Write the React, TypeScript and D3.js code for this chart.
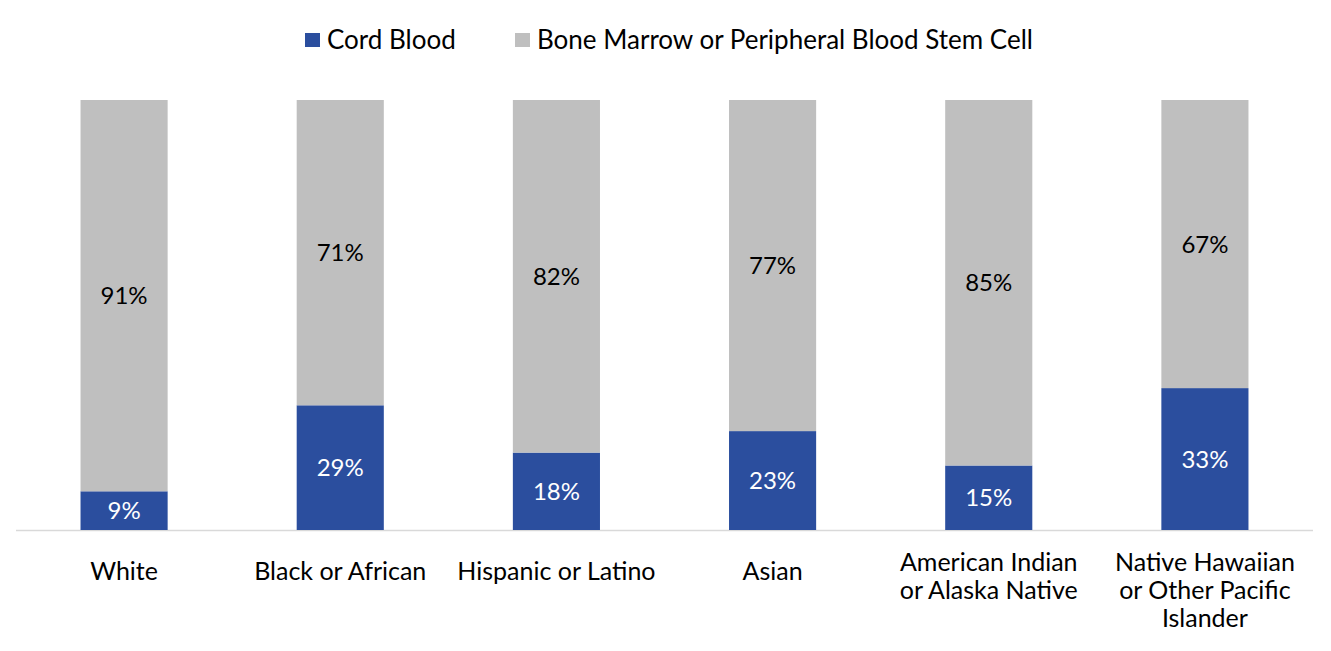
import React, { useEffect, useRef } from 'react';
import * as d3 from 'd3';

const categories = [
  ['White'],
  ['Black or African'],
  ['Hispanic or Latino'],
  ['Asian'],
  ['American Indian', 'or Alaska Native'],
  ['Native Hawaiian', 'or Other Pacific', 'Islander'],
];
const cordBlood = [9, 29, 18, 23, 15, 33];
const boneMarrow = [91, 71, 82, 77, 85, 67];
const seriesNames = ['Cord Blood', 'Bone Marrow or Peripheral Blood Stem Cell'];

const BLUE = '#2b4e9e';
const GRAY = '#bfbfbf';
const FONT = 'Lato, "Open Sans", sans-serif';

export default function App() {
  const svgRef = useRef<SVGSVGElement>(null);

  useEffect(() => {
    if (!svgRef.current) return;
    const width = 1331;
    const height = 651;
    const svg = d3.select(svgRef.current);
    svg.selectAll('*').remove();

    const keys = categories.map((c) => c.join(' '));
    const x = d3.scaleBand().domain(keys).range([16, 1313]).paddingInner(0.597).paddingOuter(0.2985);
    const y = d3.scaleLinear().domain([0, 100]).range([530, 100]);

    const rows = keys.map((k, i) => ({ key: k, cord: cordBlood[i], bone: boneMarrow[i] }));
    const stack = d3.stack<any>().keys(['cord', 'bone'])(rows);
    const colors = [BLUE, GRAY];
    const textColors = ['#ffffff', '#000000'];

    // axis line
    svg.append('line')
      .attr('x1', 16).attr('x2', 1313)
      .attr('y1', y(0) + 0.5).attr('y2', y(0) + 0.5)
      .attr('stroke', '#d9d9d9').attr('stroke-width', 1.5);

    stack.forEach((layer, li) => {
      const g = svg.append('g');
      g.selectAll('rect')
        .data(layer)
        .enter().append('rect')
        .attr('x', (d: any) => x(d.data.key)!)
        .attr('width', x.bandwidth())
        .attr('y', (d) => y(d[1]))
        .attr('height', (d) => y(d[0]) - y(d[1]))
        .attr('fill', colors[li]);
      g.selectAll('text')
        .data(layer)
        .enter().append('text')
        .attr('x', (d: any) => x(d.data.key)! + x.bandwidth() / 2)
        .attr('y', (d) => (y(d[0]) + y(d[1])) / 2)
        .attr('dy', '0.36em')
        .attr('text-anchor', 'middle')
        .attr('font-family', FONT)
        .attr('font-size', 24)
        .attr('fill', textColors[li])
        .text((d) => `${d[1] - d[0]}%`);
    });

    // category labels
    categories.forEach((lines, i) => {
      const cx = x(keys[i])! + x.bandwidth() / 2;
      const t = svg.append('text')
        .attr('text-anchor', 'middle')
        .attr('font-family', FONT)
        .attr('font-size', 25)
        .attr('fill', '#000');
      const y0 = lines.length === 1 ? 580 : 571;
      lines.forEach((line, j) => {
        t.append('tspan').attr('x', cx).attr('y', y0 + j * 28).text(line);
      });
    });

    // legend
    const legend = [
      { name: seriesNames[0], color: BLUE, x: 305 },
      { name: seriesNames[1], color: GRAY, x: 515 },
    ];
    legend.forEach((l) => {
      svg.append('rect').attr('x', l.x).attr('y', 33).attr('width', 15).attr('height', 14).attr('fill', l.color);
      svg.append('text')
        .attr('x', l.x + 22).attr('y', 49)
        .attr('font-family', FONT).attr('font-size', 26)
        .attr('fill', '#000')
        .text(l.name);
    });

    svg.attr('width', width).attr('height', height);
  }, []);

  return (
    <div style={{ position: 'absolute', left: 0, top: 0 }}>
      <svg ref={svgRef} width={1331} height={651} style={{ display: 'block', background: '#fff' }} />
    </div>
  );
}
